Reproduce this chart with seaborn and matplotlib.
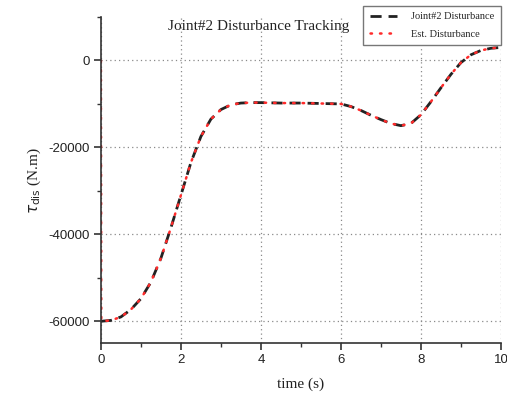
import matplotlib
matplotlib.use("Agg")
import matplotlib.pyplot as plt
from matplotlib.ticker import MultipleLocator
import seaborn as sns
import pandas as pd

# Joint #2 disturbance torque (N.m) over time (s)
time_s = [0.0, 0.25, 0.5, 0.75, 1.0, 1.25, 1.5, 1.75, 2.0, 2.25, 2.5, 2.75,
          3.0, 3.25, 3.5, 3.75, 4.0, 4.5, 5.0, 5.5, 6.0, 6.25, 6.5, 6.75,
          7.0, 7.25, 7.5, 7.75, 8.0, 8.25, 8.5, 8.75, 9.0, 9.25, 9.5, 9.75, 10.0]
true_dist = [-60000, -59800, -59000, -57300, -54800, -51000, -45500, -38500,
             -31000, -23500, -17500, -13500, -11300, -10200, -9800, -9700,
             -9700, -9800, -9800, -9900, -10000, -10600, -11500, -12600,
             -13600, -14500, -15000, -14500, -12500, -9500, -6300, -3200,
             -500, 1300, 2300, 2800, 3000]

# Observer estimate: starts from zero, then locks onto the true disturbance
est_time = [0.0, 0.01] + time_s[1:]
est_dist = [0, -60000] + true_dist[1:]

df_true = pd.DataFrame({"t": time_s, "tau": true_dist})
df_est = pd.DataFrame({"t": est_time, "tau": est_dist})

sns.set_theme(style="ticks")
plt.rcParams["font.family"] = ["Liberation Sans", "DejaVu Sans"]
plt.rcParams["axes.unicode_minus"] = False

fig = plt.figure(figsize=(5.07, 3.94), dpi=100)
ax = fig.add_axes([0.199, 0.1294, 0.789, 0.8275])

sns.lineplot(data=df_true, x="t", y="tau", ax=ax, color="#222222",
             linewidth=2.0, label="Joint#2 Disturbance", sort=False)
ax.lines[-1].set_dashes((4, 2.5))
sns.lineplot(data=df_est, x="t", y="tau", ax=ax, color="#ff2a2a",
             linewidth=1.8, label="Est. Disturbance", sort=False)
ax.lines[-1].set_dashes((0.6, 3.2))
ax.lines[-1].set_dash_capstyle("round")

ax.set_xlim(0, 10)
ax.set_ylim(-65000, 10000)
ax.xaxis.set_major_locator(MultipleLocator(2))
ax.xaxis.set_minor_locator(MultipleLocator(1))
ax.yaxis.set_major_locator(MultipleLocator(20000))
ax.yaxis.set_minor_locator(MultipleLocator(10000))

ax.grid(True, which="major", linestyle=(0, (1, 2.5)), color="#8a8a8a", linewidth=0.9)
sns.despine(ax=ax)
for side in ("left", "bottom"):
    ax.spines[side].set_color("#333333")
    ax.spines[side].set_linewidth(1.2)
ax.tick_params(which="major", direction="out", length=5, width=1.2,
               color="#333333", labelsize=9.5, labelcolor="#222222", pad=3)
ax.tick_params(which="minor", direction="out", length=3, width=1.0, color="#333333")

serif = ["Liberation Serif", "DejaVu Serif"]
ax.set_xlabel("time (s)", family=serif, fontsize=11, color="#222222", labelpad=8)
ax.set_ylabel(r"$\tau_{\rm dis}$ (N.m)", family=serif, fontsize=11, color="#222222", labelpad=4)
ax.text(0.395, 0.97, "Joint#2 Disturbance Tracking", transform=ax.transAxes,
        family=serif, fontsize=11, color="#222222", ha="center", va="center")

leg = ax.legend(loc="upper right", bbox_to_anchor=(0.988, 0.985), borderaxespad=0,
                bbox_transform=fig.transFigure, prop={"family": serif, "size": 7.5},
                frameon=True, fancybox=False, edgecolor="#777777", framealpha=1,
                handlelength=2.6, borderpad=0.6, labelspacing=0.8, handletextpad=1.4)
leg.get_frame().set_linewidth(1.0)

fig.savefig("out.png", dpi=100)
